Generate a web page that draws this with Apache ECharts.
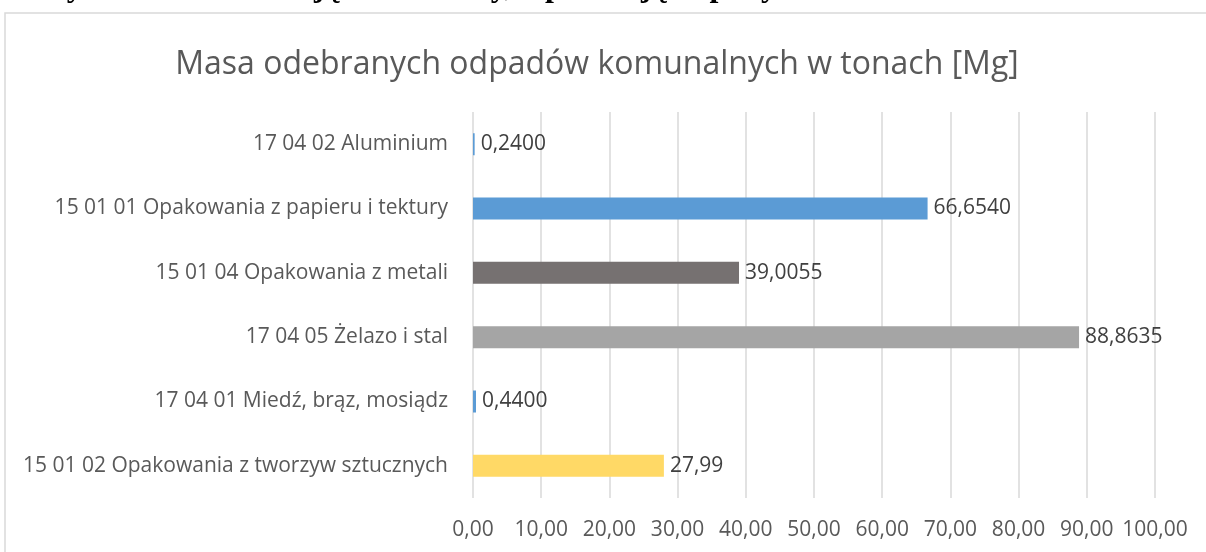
<!DOCTYPE html>
<html>
<head>
<meta charset="utf-8">
<script src="https://cdn.jsdelivr.net/npm/echarts@6/dist/echarts.min.js"></script>
<style>
  html, body { margin: 0; padding: 0; background: #fff; }
  #chart { width: 1206px; height: 552px; }
</style>
</head>
<body>
<div id="chart"></div>
<script>
// dane z wykresu
var categories = [
    '17 04 02 Aluminium',
    '15 01 01 Opakowania z papieru i tektury',
    '15 01 04 Opakowania z metali',
    '17 04 05 Żelazo i stal',
    '17 04 01 Miedź, brąz, mosiądz',
    '15 01 02 Opakowania z tworzyw sztucznych'
];
var masses = [0.24, 66.654, 39.0055, 88.8635, 0.44, 27.99];
var massLabels = ['0,2400', '66,6540', '39,0055', '88,8635', '0,4400', '27,99'];
var barColors = ['#5b9bd5', '#5b9bd5', '#767171', '#a5a5a5', '#5b9bd5', '#ffd966'];

var chart = echarts.init(document.getElementById('chart'));
var option = {
    animation: false,
    title: {
        text: 'Masa odebranych odpadów komunalnych w tonach [Mg]',
        left: 592,
        top: 44,
        textAlign: 'center',
        textStyle: {
            fontFamily: 'Open Sans',
            fontSize: 32,
            fontWeight: 'normal',
            color: '#595959'
        }
    },
    graphic: [
        {
            type: 'rect',
            shape: { x: 5, y: 13, width: 1300, height: 700 },
            style: { fill: 'none', stroke: '#d9d9d9', lineWidth: 1.5 },
            silent: true
        },
        {
            type: 'text',
            x: 946,
            y: -12,
            style: {
                text: 'których nie zamieszkują mieszkańcy, a powstają odpady komunalne.',
                font: 'bold 32px "Liberation Serif"',
                fill: '#000',
                textAlign: 'right',
                textVerticalAlign: 'middle'
            },
            silent: true
        }
    ],
    grid: {
        left: 473,
        right: 51,
        top: 112,
        bottom: 54
    },
    xAxis: {
        type: 'value',
        min: 0,
        max: 100,
        interval: 10,
        axisLine: { show: false },
        axisTick: { show: false },
        splitLine: { lineStyle: { color: '#d9d9d9', width: 1.5 } },
        axisLabel: {
            margin: 22,
            fontFamily: 'Open Sans',
            fontSize: 21,
            color: '#595959',
            formatter: function (v) { return v.toFixed(2).replace('.', ','); }
        }
    },
    yAxis: {
        type: 'category',
        inverse: true,
        data: categories,
        axisLine: { show: false },
        axisTick: { show: false },
        axisLabel: {
            margin: 25,
            fontFamily: 'Open Sans',
            fontSize: 21,
            color: '#595959'
        }
    },
    series: [
        {
            type: 'bar',
            data: masses,
            barWidth: 22,
            itemStyle: {
                color: function (p) { return barColors[p.dataIndex]; }
            },
            label: {
                show: true,
                position: 'right',
                distance: 6,
                fontFamily: 'Open Sans',
                fontSize: 21,
                color: '#404040',
                formatter: function (p) { return massLabels[p.dataIndex]; }
            }
        }
    ]
};
chart.setOption(option);
</script>
</body>
</html>
